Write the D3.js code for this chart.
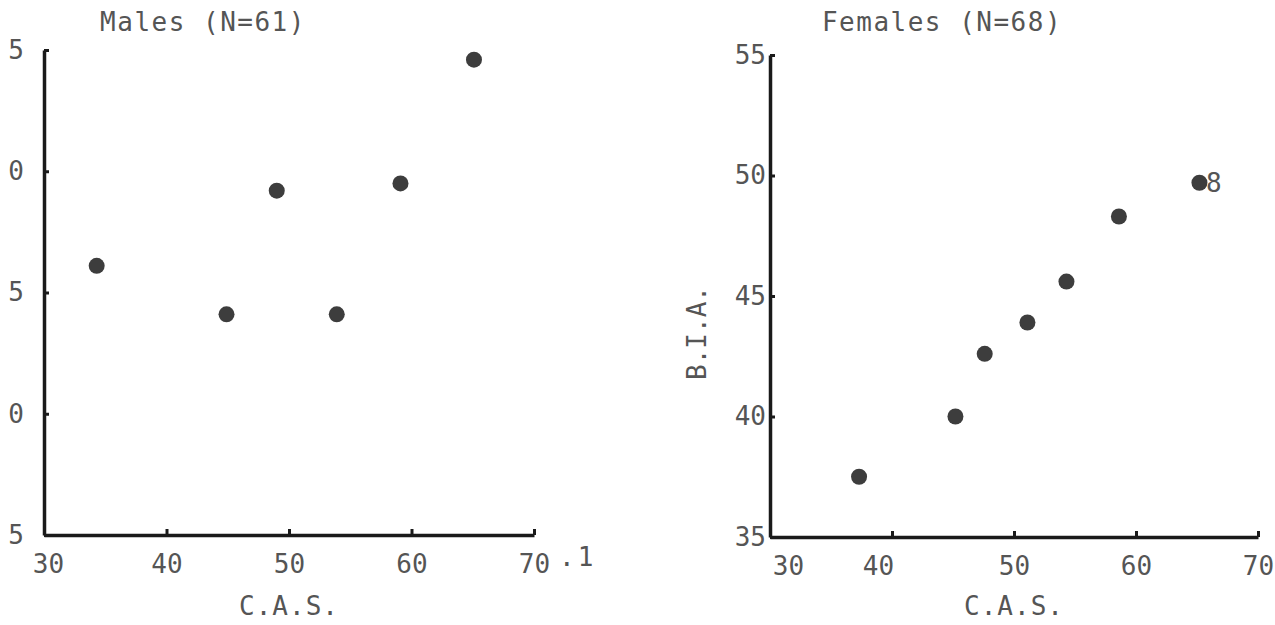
<!DOCTYPE html>
<html>
<head>
<meta charset="utf-8">
<script src="https://cdnjs.cloudflare.com/ajax/libs/d3/7.8.5/d3.min.js"></script>
<style>
body{margin:0;background:#fff;}
text{font-family:"DejaVu Sans Mono",monospace;fill:#555;}
</style>
</head>
<body>
<div id="chart"></div>
<script>
var w=1275;
var h=625;

// data
var xTicks=[30,40,50,60,70];
var yTicks=[35,40,45,50,55];
var malesCAS=[34.3,44.9,49.0,53.9,59.1,65.1];
var malesBIA=[46.1,44.1,49.2,44.1,49.5,54.6];
var femalesCAS=[37.3,45.2,47.6,51.1,54.3,58.6,65.2];
var femalesBIA=[37.5,40.0,42.6,43.9,45.6,48.3,49.7];

var svg=d3.select("#chart")
  .append("svg")
  .attr("width",w)
  .attr("height",h);

function panel(opts){
  var x=d3.scaleLinear().domain([30,70]).range(opts.xr);
  var y=d3.scaleLinear().domain([35,55]).range(opts.yr);
  var g=svg.append("g");

  var xAxis=g.append("g")
    .attr("transform","translate(0,"+opts.yr[0]+")")
    .call(d3.axisBottom(x).tickValues(xTicks).tickSizeInner(-6).tickSizeOuter(0).tickPadding(20));
  var yAxis=g.append("g")
    .attr("transform","translate("+opts.xr[0]+",0)")
    .call(d3.axisLeft(y).tickValues(yTicks).tickSizeInner(-5).tickSizeOuter(0)
      .tickPadding(opts.yPad).tickFormat(opts.yFormat));

  [xAxis,yAxis].forEach(function(a){
    a.select(".domain").attr("stroke","#1a1a1a").attr("stroke-width",3.5);
    a.selectAll(".tick line").attr("stroke","#1a1a1a").attr("stroke-width",3);
    a.selectAll(".tick text")
      .style("font-family","DejaVu Sans Mono")
      .style("font-size","26px")
      .attr("fill","#555");
  });
  xAxis.selectAll(".tick text").attr("dx",function(d){return d==30?opts.dx30:(d==40?opts.dx40:0);});

  g.append("text")
    .attr("x",opts.titleX)
    .attr("y",31)
    .attr("text-anchor","middle")
    .style("font-size","26px")
    .style("letter-spacing","1.5px")
    .text(opts.title);

  g.append("text")
    .attr("x",(opts.xr[0]+opts.xr[1])/2)
    .attr("y",615)
    .attr("text-anchor","middle")
    .style("font-size","26px")
    .style("letter-spacing","1px")
    .text("C.A.S.");

  g.selectAll("circle")
    .data(opts.cx)
    .enter()
    .append("circle")
    .attr("cx",function(d){return x(d);})
    .attr("cy",function(d,i){return y(opts.cy[i]);})
    .attr("r",8)
    .attr("fill","#3d3d3d");
  return g;
}

panel({
  xr:[44,534],yr:[535,50],
  cx:malesCAS,cy:malesBIA,
  title:"Males (N=61)",titleX:203,
  yPad:20,yFormat:function(d){return String(d).slice(-1);},
  dx30:4,dx40:0
});

var right=panel({
  xr:[770,1258],yr:[537,55],
  cx:femalesCAS,cy:femalesBIA,
  title:"Females (N=68)",titleX:942,
  yPad:4,yFormat:function(d){return d;},
  dx30:18,dx40:-14
});

right.append("text")
  .attr("transform","translate(706,333) rotate(-90)")
  .attr("text-anchor","middle")
  .style("font-size","26px")
  .text("B.I.A.");

// stray marks left over from the original scan
svg.append("text").attr("x",559).attr("y",566).style("font-size","26px").style("letter-spacing","3px").text(".1");
svg.append("text").attr("x",1206).attr("y",192).style("font-size","26px").text("8");
</script>
</body>
</html>
